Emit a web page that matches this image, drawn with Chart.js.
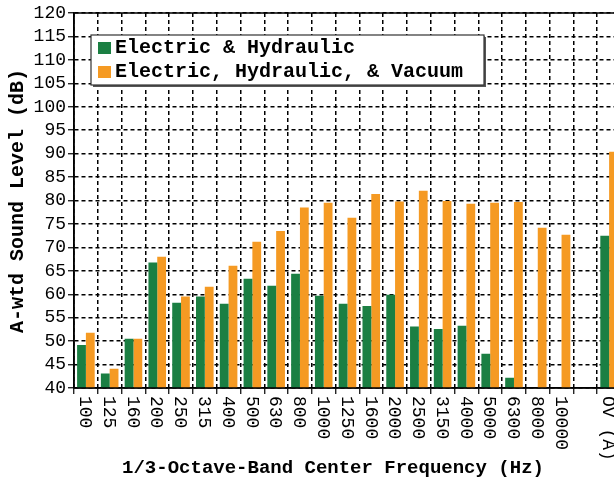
<!DOCTYPE html>
<html>
<head>
<meta charset="utf-8">
<script src="https://cdn.jsdelivr.net/npm/chart.js@4.4.1/dist/chart.umd.min.js"></script>
<style>
  html, body { margin: 0; padding: 0; background: #fff; overflow: hidden; }
  #wrap { width: 630px; height: 483px; }
</style>
</head>
<body>
<div id="wrap"><canvas id="barChart" width="630" height="483"></canvas></div>
<script>
// bandas de 1/3 de oitava + total (OV)
const bands = ['100', '125', '160', '200', '250', '315', '400', '500', '630', '800',
  '1000', '1250', '1600', '2000', '2500', '3150', '4000', '5000', '6300', '8000', '10000', '', 'OV (A)'];
const elecHyd = [49.2, 43.1, 50.5, 66.8, 58.2, 59.5, 58.0, 63.3, 61.8, 64.4,
  59.7, 58.0, 57.5, 59.9, 53.1, 52.6, 53.3, 47.3, 42.2, null, null, null, 72.5];
const elecHydVac = [51.8, 44.1, 50.5, 68.0, 59.5, 61.6, 66.1, 71.2, 73.5, 78.5,
  79.5, 76.3, 81.4, 79.8, 82.1, 79.9, 79.3, 79.5, 79.7, 74.2, 72.7, null, 90.4];
const seriesNames = ['Electric & Hydraulic', 'Electric, Hydraulic, & Vacuum'];
const yTicks = { min: 40, max: 120, step: 5 };

const MONO = '"Liberation Mono", "Courier New", monospace';
Chart.defaults.font.family = MONO;
Chart.defaults.color = '#000';

// desenha rótulos girados, títulos, legenda e moldura
const extras = {
  id: 'extras',
  afterDraw(chart) {
    const ctx = chart.ctx;
    const area = chart.chartArea;
    const xs = chart.scales.x;

    // moldura
    ctx.save();
    ctx.strokeStyle = '#000';
    ctx.lineWidth = 1.5;
    ctx.strokeRect(area.left, area.top, area.right - area.left, area.bottom - area.top);
    ctx.restore();

    // rótulos do eixo x (girados no sentido horário)
    ctx.save();
    ctx.fillStyle = '#000';
    ctx.font = '18px ' + MONO;
    ctx.textAlign = 'left';
    ctx.textBaseline = 'middle';
    bands.forEach((b, i) => {
      if (!b) return;
      const x = xs.getPixelForValue(i) - 1;
      ctx.save();
      ctx.translate(x, area.bottom + 8);
      ctx.rotate(Math.PI / 2);
      ctx.fillText(b, 0, 0);
      ctx.restore();
    });
    ctx.restore();

    // títulos
    ctx.save();
    ctx.fillStyle = '#000';
    ctx.font = 'bold 19px ' + MONO;
    ctx.textAlign = 'center';
    ctx.textBaseline = 'middle';
    ctx.fillText('1/3-Octave-Band Center Frequency (Hz)', 333, 468);
    ctx.translate(18, 201);
    ctx.rotate(-Math.PI / 2);
    ctx.font = 'bold 20px ' + MONO;
    ctx.fillText('A-wtd Sound Level (dB)', 0, 0);
    ctx.restore();

    // legenda
    const lx = 91, ly = 35, lw = 393, lh = 50;
    ctx.save();
    ctx.fillStyle = '#555';
    ctx.fillRect(lx + 2, ly + 2, lw, lh);
    ctx.fillStyle = '#fff';
    ctx.fillRect(lx, ly, lw, lh);
    ctx.strokeStyle = '#333';
    ctx.lineWidth = 1.2;
    ctx.strokeRect(lx, ly, lw, lh);
    ctx.font = 'bold 20px ' + MONO;
    ctx.textBaseline = 'middle';
    ctx.textAlign = 'left';
    chart.data.datasets.forEach((ds, i) => {
      const cy = 48 + i * 24;
      ctx.fillStyle = ds.backgroundColor;
      ctx.fillRect(98, cy - 6, 13, 12);
      ctx.fillStyle = '#000';
      ctx.fillText(ds.label, 115, cy);
    });
    ctx.restore();
  }
};

const ctx1 = document.getElementById('barChart').getContext('2d');
const barChart = new Chart(ctx1, {
  type: 'bar',
  data: {
    labels: bands,
    datasets: [{
      label: seriesNames[0],
      data: elecHyd,
      backgroundColor: '#1b7f43',
      borderWidth: 0
    }, {
      label: seriesNames[1],
      data: elecHydVac,
      backgroundColor: '#f59a23',
      borderWidth: 0
    }]
  },
  options: {
    responsive: false,
    animation: false,
    devicePixelRatio: 1,
    layout: { padding: { left: 0, right: 9, top: 13, bottom: 0 } },
    datasets: { bar: { categoryPercentage: 0.74, barPercentage: 1.0 } },
    plugins: {
      legend: { display: false },
      tooltip: { enabled: false }
    },
    scales: {
      x: {
        offset: true,
        ticks: { display: false, autoSkip: false },
        grid: {
          offset: true,
          color: '#000',
          lineWidth: 1.5,
          tickLength: 6,
          tickColor: '#000',
          tickWidth: 1.2
        },
        border: { display: true, color: '#000', width: 1.5, dash: [4, 3] },
        afterFit(s) { s.height = 95; }
      },
      y: {
        min: yTicks.min,
        max: yTicks.max,
        ticks: { stepSize: yTicks.step, autoSkip: false, font: { size: 18 }, padding: 2, color: '#000' },
        grid: {
          color: '#000',
          lineWidth: 1.5,
          tickLength: 6,
          tickColor: '#000',
          tickWidth: 1.2
        },
        border: { display: true, color: '#000', width: 1.5, dash: [4, 3] },
        afterFit(s) { s.width = 74; }
      }
    }
  },
  plugins: [extras]
});
</script>
</body>
</html>
